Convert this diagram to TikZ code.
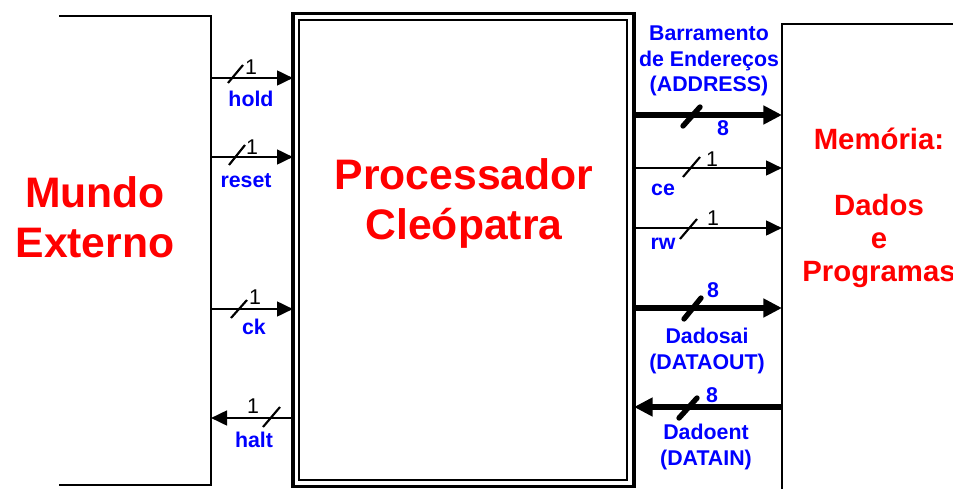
\documentclass[tikz,border=0pt]{standalone}
\usepackage{fontspec}
\setmainfont{Liberation Sans}
\usetikzlibrary{arrows.meta}
\definecolor{sigblue}{RGB}{0,0,255}
\definecolor{titlered}{RGB}{255,0,0}
\begin{document}
\begin{tikzpicture}[x=0.75pt,y=-0.75pt,
  wire/.style={line width=2pt},
  sig/.style={line width=2pt,-{Triangle[length=12pt,width=11pt]}},
  bus/.style={line width=4.2pt,-{Triangle[length=14pt,width=13.5pt]}},
  slash/.style={line width=1.6pt},
  busslash/.style={line width=4pt,line cap=round},
  lbl/.style={text=sigblue,font=\bfseries\fontsize{16}{19}\selectfont,inner sep=0pt},
  num/.style={font=\fontsize{16}{19}\selectfont,inner sep=0pt},
  bnum/.style={text=sigblue,font=\bfseries\fontsize{16}{19}\selectfont,inner sep=0pt},
  big/.style={text=titlered,font=\bfseries\fontsize{32}{37.5}\selectfont,align=center,inner sep=0pt},
  mem/.style={text=titlered,font=\bfseries\fontsize{22}{24.75}\selectfont,align=center,inner sep=0pt},
  blbl/.style={text=sigblue,font=\bfseries\fontsize{16}{19}\selectfont,align=center,inner sep=0pt}]
\useasboundingbox (0,0) rectangle (953,489);

% Mundo Externo box
\coordinate (mtl) at (59,16);
\coordinate (mtr) at (211,16);
\coordinate (mbr) at (211,485);
\coordinate (mbl) at (59,485);
\draw[wire] (mtl) -- (mtr) -- (mbr) -- (mbl);
\node[big] (mundo) at (95,217) {Mundo\\Externo};

% Processor box (double border)
\node[draw,line width=2.5pt,minimum width=255.75pt,minimum height=354.75pt,inner sep=0pt,outer sep=0pt] (procout) at (463.5,250) {};
\node[draw,line width=1.5pt,minimum width=246pt,minimum height=345pt,inner sep=0pt,outer sep=0pt] (procin) at (463,250) {};
\node[big] (proctxt) at (464,203) {Processador\\Cleópatra};

% Memory box
\coordinate (memtl) at (782,24);
\coordinate (memtr) at (953,24);
\coordinate (membl) at (782,489);
\draw[wire] (memtr) -- (memtl) -- (membl);
\node[mem] (memtxt) at (879,208) {Memória:\\[24.75pt]Dados\\e\\Programas};

% Left signals
\coordinate (holdL) at (211,78);
\coordinate (resetL) at (211,157);
\coordinate (ckL) at (211,309);
\coordinate (haltL) at (211,418);
\draw[sig] (holdL) -- (procout.west |- holdL);
\draw[sig] (resetL) -- (procout.west |- resetL);
\draw[sig] (ckL) -- (procout.west |- ckL);
\draw[sig] (procout.west |- haltL) -- (haltL);

\draw[slash] (228,83) -- (243,65);
\draw[slash] (229,165) -- (245,145);
\draw[slash] (231,318) -- (247,300);
\draw[slash] (263,427) -- (280,407);

\node[num] (n1) at (251,67) {1};
\node[num] (n2) at (252,147) {1};
\node[num] (n3) at (255,297) {1};
\node[num] (n4) at (253,406) {1};

\node[lbl] (hold) at (251,99) {hold};
\node[lbl] (reset) at (246,181) {reset};
\node[lbl] (ck) at (254,327) {ck};
\node[lbl] (halt) at (254,440) {halt};

% Right signals
\coordinate (addrR) at (782,115);
\coordinate (ceR) at (782,168);
\coordinate (rwR) at (782,228);
\coordinate (doutR) at (782,308);
\coordinate (dinR) at (782,407);
\draw[bus] (procout.east |- addrR) -- (addrR);
\draw[sig] (procout.east |- ceR) -- (ceR);
\draw[sig] (procout.east |- rwR) -- (rwR);
\draw[bus] (procout.east |- doutR) -- (doutR);
\draw[bus] (dinR) -- (procout.east |- dinR);

\draw[busslash] (683,126) -- (700,107);
\draw[slash] (683,177) -- (700,157);
\draw[slash] (680,239) -- (697,219);
\draw[busslash] (684,319) -- (701,298);
\draw[busslash] (679,418) -- (697,398);

\node[bnum] (b1) at (723,128) {8};
\node[num] (n5) at (712,159) {1};
\node[num] (n6) at (713,218) {1};
\node[bnum] (b2) at (713,290) {8};
\node[bnum] (b3) at (712,395) {8};

\node[blbl] (addr) at (709,61) {Barramento\\de Endereços\\(ADDRESS)};
\node[lbl] (ce) at (663,190) {ce};
\node[lbl] (rw) at (663,244) {rw};
\node[blbl] (dout) at (707,351) {Dadosai\\(DATAOUT)};
\node[blbl] (din) at (706,447) {Dadoent\\(DATAIN)};
\end{tikzpicture}
\end{document}
